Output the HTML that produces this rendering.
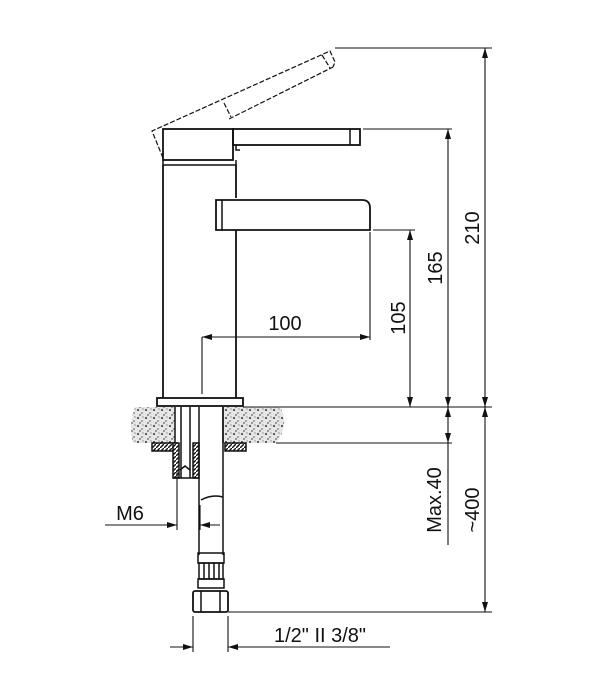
<!DOCTYPE html>
<html><head><style>body{margin:0;background:#fff}svg{display:block}text{font-family:"Liberation Sans",sans-serif;font-size:20px;fill:#111}</style></head><body>
<svg width="600" height="700" viewBox="0 0 600 700" xmlns="http://www.w3.org/2000/svg">
<defs>
<marker id="a" viewBox="0 0 10 6" refX="10" refY="3" markerWidth="10" markerHeight="6" orient="auto-start-reverse" markerUnits="userSpaceOnUse"><path d="M0,0L10,3L0,6z" fill="#111"/></marker>
<pattern id="st" width="8" height="8" patternUnits="userSpaceOnUse"><rect width="8" height="8" fill="#e6e6e6"/><circle cx="2" cy="2" r="1" fill="#333"/><circle cx="6" cy="5" r="0.8" fill="#555"/><circle cx="4" cy="7" r="0.7" fill="#222"/><circle cx="7" cy="1" r="0.6" fill="#666"/></pattern>
<pattern id="h" width="4" height="4" patternUnits="userSpaceOnUse"><rect width="4" height="4" fill="#fff"/><path d="M0,4L4,0" stroke="#111" stroke-width="1.4"/></pattern>
</defs>
<g fill="none" stroke="#111" stroke-width="1.5">
<g stroke-dasharray="5,2" stroke-width="1.2">
<path d="M163,158L152,131L330,51L335,62L333,67"/>
<path d="M224,103L231,117"/>
<path d="M229,119L333,67"/>
<path d="M322,55L330,68"/>
</g>
<rect x="163" y="129" width="70" height="31" stroke-width="1.8"/>
<path d="M163,160L163,165L236,165L236,160"/>
<rect x="233" y="129" width="127" height="16" stroke-width="1.8"/>
<path d="M236,145L236,150L240,150"/>
<path d="M350,129L350,145"/>
<path d="M163,165L163,398M236,165L236,198M236,230L236,398" stroke-width="1.8"/>
<path d="M216,200L362,200Q370,200 370,208L370,230L216,230Z" stroke-width="1.8"/>
<path d="M222,200L222,230"/>
<rect x="157" y="398" width="86" height="8" stroke-width="1.8"/>
<path d="M135,407L175,407L175,443L133,443Q128,425 135,407Z" fill="url(#st)" stroke="none"/>
<path d="M223,407L280,407Q290,425 276,443L223,443Z" fill="url(#st)" stroke="none"/>
<path d="M175,407L175,443M223,407L223,443"/>
<rect x="152" y="443" width="25" height="8" fill="url(#h)"/>
<rect x="225" y="443" width="21" height="8" fill="url(#h)"/>
<rect x="173" y="443" width="6" height="35" fill="url(#h)"/>
<rect x="193" y="443" width="6" height="35" fill="url(#h)"/>
<path d="M173,478L199,478M181,407L181,478M190,407L190,478"/>
<path d="M180,470L185,466L190,470"/>
<path d="M199,407L199,555M223,407L223,555M201,500Q212,494 223,497"/>
<rect x="198" y="553" width="26" height="10"/>
<rect x="199" y="563" width="24" height="16"/>
<path d="M204,563v16M209,563v16M214,563v16M219,563v16"/>
<rect x="198" y="579" width="26" height="9"/>
<rect x="193" y="591" width="35" height="21" rx="2" stroke-width="1.8"/>
<path d="M201,591v21M220,591v21"/>
<path d="M202,337L202,394" stroke-width="1.1"/>
<g stroke-width="1.1">
<path d="M335,48L492,48M363,129L452,129M373,230L415,230M243,407L492,407M276,443L452,443M228,612L492,612M370,232L370,340"/>
<path d="M177,470L177,530M200,505L200,530M193,616L193,652M228,616L228,652"/>
</g>
<g stroke-width="1.1" marker-start="url(#a)" marker-end="url(#a)">
<path d="M485,48L485,407"/>
<path d="M485,407L485,612"/>
<path d="M448,129L448,407"/>
<path d="M410,230L410,407"/>
<path d="M202,337L370,337"/>
</g>
<path d="M448,407L448,443" stroke-width="1.1" marker-start="url(#a)" marker-end="url(#a)"/>
<path d="M105,525L177,525" stroke-width="1.1" marker-end="url(#a)"/>
<path d="M220,525L200,525" stroke-width="1.1" marker-end="url(#a)"/>
<path d="M170,647L193,647" stroke-width="1.1" marker-end="url(#a)"/>
<path d="M390,647L228,647" stroke-width="1.1" marker-end="url(#a)"/>
<path d="M448,443L448,545" stroke-width="1.1"/>
</g>
<text x="285" y="330" text-anchor="middle">100</text>
<text x="130" y="520" text-anchor="middle">M6</text>
<text x="320" y="642" text-anchor="middle">1/2" II 3/8"</text>
<text transform="translate(479,228) rotate(-90)" text-anchor="middle">210</text>
<text transform="translate(442,268) rotate(-90)" text-anchor="middle">165</text>
<text transform="translate(405,318) rotate(-90)" text-anchor="middle">105</text>
<text transform="translate(441,500) rotate(-90)" text-anchor="middle">Max.40</text>
<text transform="translate(479,510) rotate(-90)" text-anchor="middle">~400</text>
</svg>
</body></html>
